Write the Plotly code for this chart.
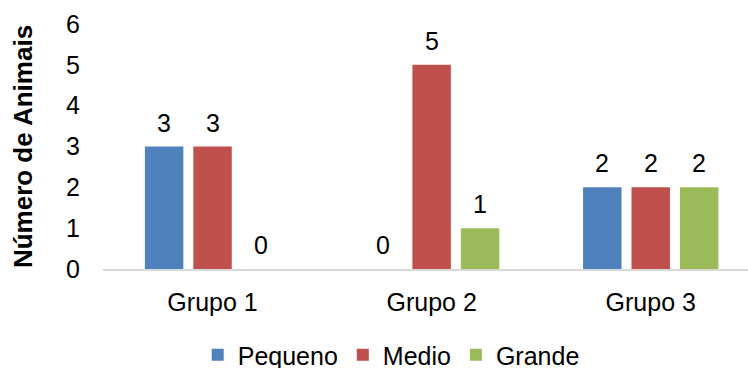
import plotly.graph_objects as go

# Animal counts per group and size class
grupos = ["Grupo 1", "Grupo 2", "Grupo 3"]
pequeno = [3, 0, 2]
medio = [3, 5, 2]
grande = [0, 1, 2]

series = [
    ("Pequeno", pequeno, "#4F81BD"),
    ("Medio", medio, "#C0504D"),
    ("Grande", grande, "#9BBB59"),
]

FONT = "Liberation Sans, Arial, sans-serif"
FS = 25

fig = go.Figure()
for name, vals, color in series:
    fig.add_trace(go.Bar(
        name=name, x=grupos, y=vals,
        marker=dict(color=color, line=dict(width=0)),
        offsetgroup=name,
    ))

# value labels above each bar
n = len(series)
for i, (name, vals, color) in enumerate(series):
    for j, v in enumerate(vals):
        fig.add_annotation(
            x=j, y=v, xref="x", yref="y",
            text=str(v), showarrow=False,
            xshift=(i - (n - 1) / 2) * 48.5,
            yshift=24, yanchor="middle",
            font=dict(family=FONT, size=FS, color="#000000"),
        )

fig.update_layout(
    width=748, height=368,
    margin=dict(l=103, r=0, t=24, b=98.5, autoexpand=False),
    paper_bgcolor="white", plot_bgcolor="white",
    barmode="group", bargap=0.337, bargroupgap=0.206,
    font=dict(family=FONT, size=FS, color="#000000"),
    showlegend=True,
    legend=dict(
        orientation="h", xref="container", yref="container",
        x=0.523, xanchor="center", y=1 - 355 / 368, yanchor="middle",
        font=dict(family=FONT, size=FS, color="#000000"),
        itemwidth=30, traceorder="normal",
    ),
    xaxis=dict(
        type="category", range=[-0.5, 2.444], automargin=False,
        showgrid=False, zeroline=False,
        showline=True, linecolor="#D9D9D9", linewidth=1.5,
        ticks="", ticklabelstandoff=10,
        tickfont=dict(family=FONT, size=FS, color="#000000"),
    ),
    yaxis=dict(
        range=[0, 6], dtick=1, showgrid=False, zeroline=False, automargin=False,
        showline=False, ticks="", ticklabelstandoff=22,
        tickfont=dict(family=FONT, size=FS, color="#000000"),
        title=dict(
            text="<b>Número de Animais</b>", standoff=25,
            font=dict(family=FONT, size=26, color="#000000"),
        ),
    ),
)

fig.write_html("out.html")
